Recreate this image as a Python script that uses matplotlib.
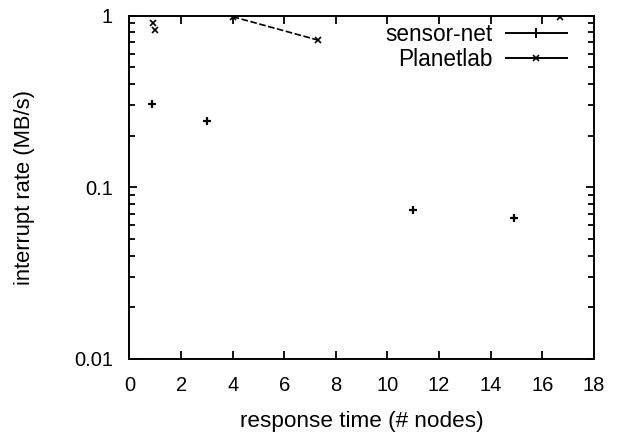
import numpy as np
import matplotlib
matplotlib.use('Agg')
import matplotlib.pyplot as plt
from matplotlib.lines import Line2D
from matplotlib.ticker import FixedLocator, FixedFormatter, LogLocator, NullFormatter

# sensor-net measurements (isolated points)
sensor_x = [0.88, 3.0, 11.0, 14.9]
sensor_y = [0.305, 0.242, 0.074, 0.066]

# Planetlab measurements
planet_x = [0.9, 1.0, 16.7]
planet_y = [0.91, 0.82, 0.985]
# Planetlab segment drawn with a line
planet_line_x = [4.0, 7.3]
planet_line_y = [0.985, 0.72]

x_ticks = [0, 2, 4, 6, 8, 10, 12, 14, 16, 18]
y_ticks = [0.01, 0.1, 1]
y_tick_labels = ['0.01', '0.1', '1']

plt.rcParams['font.family'] = ['Liberation Sans', 'DejaVu Sans']

fig = plt.figure(figsize=(6.18, 4.32), dpi=100)
ax = fig.add_axes([0.2095, 0.169, 0.7515, 0.795])

ax.plot(sensor_x, sensor_y, linestyle='none', marker='+', color='black',
        markersize=6, markeredgewidth=1.6)
ax.plot(planet_x, planet_y, linestyle='none', marker='x', color='black',
        markersize=4.5, markeredgewidth=1.2)
ax.plot(planet_line_x, planet_line_y, linestyle=(0, (4, 1.5)), marker='x',
        color='black', linewidth=1.2, markersize=4.5, markeredgewidth=1.2)

ax.set_yscale('log')
ax.set_xlim(0, 18)
ax.set_ylim(0.01, 1)

ax.xaxis.set_major_locator(FixedLocator(x_ticks))
ax.yaxis.set_major_locator(FixedLocator(y_ticks))
ax.yaxis.set_major_formatter(FixedFormatter(y_tick_labels))
ax.yaxis.set_minor_locator(LogLocator(base=10, subs=np.arange(2, 10)))
ax.yaxis.set_minor_formatter(NullFormatter())

ax.tick_params(which='both', direction='in', top=True, right=True,
               labelsize=14.5, width=1.3)
ax.tick_params(axis='x', pad=12.5)
ax.tick_params(axis='y', pad=12)
ax.tick_params(which='major', length=6)
ax.tick_params(which='minor', length=4)
for s in ax.spines.values():
    s.set_linewidth(1.4)

ax.set_xlabel('response time (# nodes)', fontsize=16.2, labelpad=11)
ax.set_ylabel('interrupt rate (MB/s)', fontsize=15.8, labelpad=28)

handles = [
    Line2D([], [], color='black', linewidth=1.4, marker='|', markersize=7,
           markeredgewidth=1.4),
    Line2D([], [], color='black', linewidth=1.4, marker='x', markersize=4,
           markeredgewidth=1.2),
]
ax.legend(handles, ['sensor-net', 'Planetlab'], loc='upper right',
          frameon=False, markerfirst=False, fontsize=16.3, handlelength=2.7,
          handletextpad=0.6, labelspacing=0.1, borderaxespad=0, borderpad=0,
          bbox_to_anchor=(0.942, 0.978))

fig.savefig('out.png', dpi=100)
